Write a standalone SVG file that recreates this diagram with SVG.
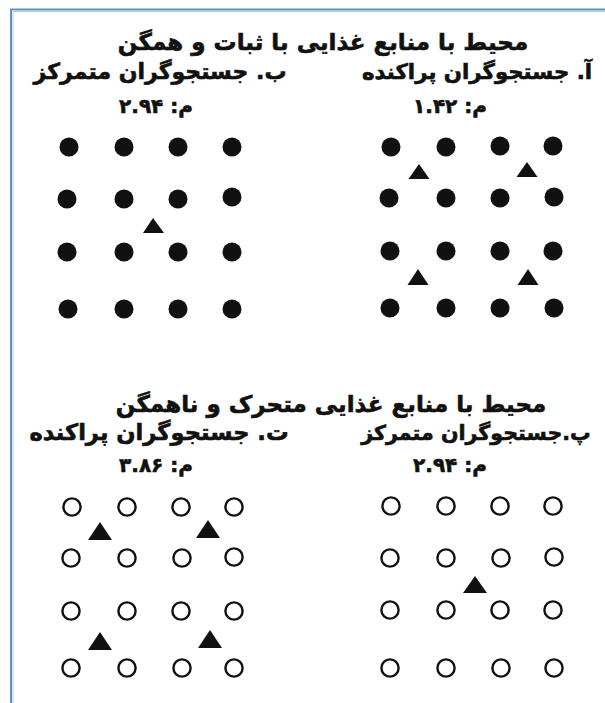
<svg xmlns="http://www.w3.org/2000/svg" width="605" height="703" viewBox="0 0 605 703">
<style>
.t{font-family:"DejaVu Sans","Noto Sans",sans-serif;font-weight:bold;font-size:22px;fill:#111;stroke:#111;stroke-width:0.6;direction:rtl;text-anchor:middle}
.h{font-size:23px}
.m{font-size:20px}
.dot{fill:#111}
.ring{fill:none;stroke:#111;stroke-width:2.4}
.tri{fill:#111}
.frame{fill:none;stroke:#5f8fd0;stroke-width:2}
.frame2{fill:none;stroke:#b5cbec;stroke-width:1}
</style>
<rect width="605" height="703" fill="#fff"/>
<g id="frame">
<path class="frame" d="M11,703 V9.5 H605"/>
<path class="frame2" d="M13,703 V11.5 H605"/>
</g>
<g id="labels-top">
<text class="t h" x="323" y="50">محیط با منابع غذایی با ثبات و همگن</text>
<text class="t" x="477" y="79" style="font-size:21.3px">آ. جستجوگران پراکنده</text>
<text class="t" x="160" y="79">ب. جستجوگران متمرکز</text>
<text class="t m" x="450" y="113">م: ۱.۴۲</text>
<text class="t m" x="156" y="113">م: ۲.۹۴</text>
</g>
<g id="labels-bottom">
<text class="t h" x="331" y="412">محیط با منابع غذایی متحرک و ناهمگن</text>
<text class="t" x="476" y="440" style="font-size:20.6px">پ.جستجوگران متمرکز</text>
<text class="t" x="159" y="440" style="font-size:22.6px">ت. جستجوگران پراکنده</text>
<text class="t m" x="450" y="472">م: ۲.۹۴</text>
<text class="t m" x="156" y="472">م: ۳.۸۶</text>
</g>
<g id="panel-b">
<circle class="dot" cx="69" cy="147" r="9.5"/><circle class="dot" cx="124" cy="147" r="9.5"/><circle class="dot" cx="178" cy="147" r="9.5"/><circle class="dot" cx="232" cy="147" r="9.5"/>
<circle class="dot" cx="67" cy="199" r="9.5"/><circle class="dot" cx="124" cy="199" r="9.5"/><circle class="dot" cx="178" cy="199" r="9.5"/><circle class="dot" cx="232" cy="197" r="9.5"/>
<circle class="dot" cx="67" cy="252" r="9.5"/><circle class="dot" cx="124" cy="252" r="9.5"/><circle class="dot" cx="178" cy="252" r="9.5"/><circle class="dot" cx="232" cy="252" r="9.5"/>
<circle class="dot" cx="68" cy="309" r="9.5"/><circle class="dot" cx="124" cy="309" r="9.5"/><circle class="dot" cx="178" cy="309" r="9.5"/><circle class="dot" cx="232" cy="309" r="9.5"/>
<polygon class="tri" points="153,218 164,233 143,233"/>
</g>
<g id="panel-a">
<circle class="dot" cx="391" cy="147" r="9.5"/><circle class="dot" cx="446" cy="147" r="9.5"/><circle class="dot" cx="500" cy="146" r="9.5"/><circle class="dot" cx="553" cy="146" r="9.5"/>
<circle class="dot" cx="389" cy="198" r="9.5"/><circle class="dot" cx="446" cy="198" r="9.5"/><circle class="dot" cx="500" cy="198" r="9.5"/><circle class="dot" cx="554" cy="197" r="9.5"/>
<circle class="dot" cx="390" cy="251" r="9.5"/><circle class="dot" cx="446" cy="251" r="9.5"/><circle class="dot" cx="500" cy="251" r="9.5"/><circle class="dot" cx="553" cy="251" r="9.5"/>
<circle class="dot" cx="390" cy="308" r="9.5"/><circle class="dot" cx="446" cy="308" r="9.5"/><circle class="dot" cx="500" cy="308" r="9.5"/><circle class="dot" cx="554" cy="308" r="9.5"/>
<polygon class="tri" points="419,164 429.5,179 408.5,179"/>
<polygon class="tri" points="527,162 537.5,177 516.5,177"/>
<polygon class="tri" points="418,269 428.5,285 407.5,285"/>
<polygon class="tri" points="528,269 538.5,285 517.5,285"/>
</g>
<g id="panel-t">
<circle class="ring" cx="72" cy="507" r="8.6"/><circle class="ring" cx="127" cy="507" r="8.6"/><circle class="ring" cx="181" cy="507" r="8.6"/><circle class="ring" cx="234" cy="507" r="8.6"/>
<circle class="ring" cx="71" cy="558" r="8.6"/><circle class="ring" cx="127" cy="558" r="8.6"/><circle class="ring" cx="182" cy="558" r="8.6"/><circle class="ring" cx="234" cy="557" r="8.6"/>
<circle class="ring" cx="71" cy="611" r="8.6"/><circle class="ring" cx="127" cy="611" r="8.6"/><circle class="ring" cx="181" cy="611" r="8.6"/><circle class="ring" cx="234" cy="611" r="8.6"/>
<circle class="ring" cx="71" cy="668" r="8.6"/><circle class="ring" cx="127" cy="668" r="8.6"/><circle class="ring" cx="182" cy="668" r="8.6"/><circle class="ring" cx="234" cy="668" r="8.6"/>
<polygon class="tri" points="100,522 112,540 88,540"/>
<polygon class="tri" points="208,520 220,538 196,538"/>
<polygon class="tri" points="100,632 112,650 88,650"/>
<polygon class="tri" points="210,630 222,648 198,648"/>
</g>
<g id="panel-p">
<circle class="ring" cx="391" cy="506" r="8.6"/><circle class="ring" cx="446" cy="506" r="8.6"/><circle class="ring" cx="500" cy="506" r="8.6"/><circle class="ring" cx="553" cy="506" r="8.6"/>
<circle class="ring" cx="390" cy="558" r="8.6"/><circle class="ring" cx="446" cy="558" r="8.6"/><circle class="ring" cx="501" cy="558" r="8.6"/><circle class="ring" cx="554" cy="557" r="8.6"/>
<circle class="ring" cx="390" cy="610" r="8.6"/><circle class="ring" cx="446" cy="610" r="8.6"/><circle class="ring" cx="500" cy="610" r="8.6"/><circle class="ring" cx="553" cy="610" r="8.6"/>
<circle class="ring" cx="390" cy="668" r="8.6"/><circle class="ring" cx="446" cy="668" r="8.6"/><circle class="ring" cx="501" cy="668" r="8.6"/><circle class="ring" cx="554" cy="668" r="8.6"/>
<polygon class="tri" points="475,576 487,593 463,593"/>
</g>
</svg>
